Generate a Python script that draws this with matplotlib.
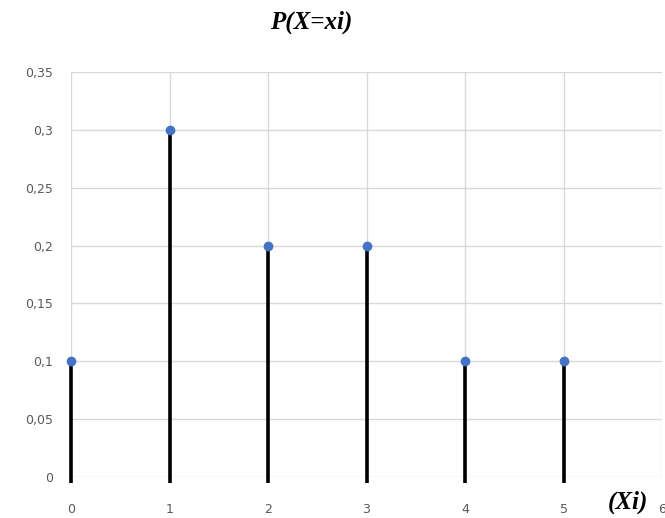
import matplotlib

matplotlib.use("Agg")
import matplotlib.pyplot as plt

# Probability distribution P(X = xi)
xi = [0, 1, 2, 3, 4, 5]
prob = [0.1, 0.3, 0.2, 0.2, 0.1, 0.1]
x_ticks = [0, 1, 2, 3, 4, 5, 6]
y_ticks = [0, 0.05, 0.1, 0.15, 0.2, 0.25, 0.3, 0.35]
y_labels = ["0", "0,05", "0,1", "0,15", "0,2", "0,25", "0,3", "0,35"]

GRID = "#d9d9d9"
TICK = "#595959"
BLUE = "#4472c4"

fig = plt.figure(figsize=(6.65, 5.18), dpi=100)
ax = fig.add_axes([0.1068, 0.079, 0.8887, 0.782])

ax.vlines(xi, -0.005, prob, color="black", linewidth=2.6, zorder=3, clip_on=False)
ax.plot(xi, prob, "o", color=BLUE, markersize=6, zorder=4, clip_on=False)

ax.set_xlim(0, 6)
ax.set_ylim(0, 0.35)
ax.set_xticks(x_ticks)
ax.set_xticklabels([str(t) for t in x_ticks])
ax.set_yticks(y_ticks)
ax.set_yticklabels(y_labels)
ax.grid(True, color=GRID, linewidth=1)
ax.set_axisbelow(True)
for side in ("top", "right", "left", "bottom"):
    ax.spines[side].set_visible(False)
ax.tick_params(length=0, colors=TICK, labelsize=9)
ax.tick_params(axis="x", pad=19)
ax.tick_params(axis="y", pad=13)

fig.text(0.468, 0.957, "P(X=xi)", fontsize=18, fontweight="bold",
         fontstyle="italic", family="Liberation Serif", ha="center", va="center")
fig.text(0.945, 0.031, "(Xi)", fontsize=18, fontweight="bold",
         fontstyle="italic", family="Liberation Serif", ha="center", va="center")

fig.savefig("out.png")
